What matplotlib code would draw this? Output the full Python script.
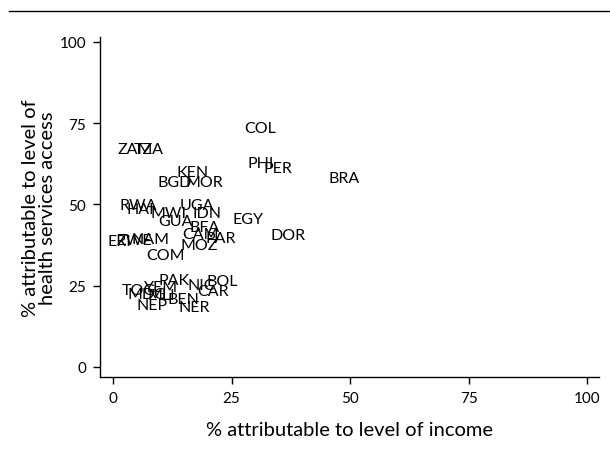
import matplotlib
matplotlib.use("Agg")
import matplotlib.pyplot as plt
from matplotlib.lines import Line2D

plt.rcParams['font.family'] = ['Lato', 'DejaVu Sans']

# country codes and their decomposition shares (%)
countries = ['COL', 'ZAM', 'TZA', 'PHI', 'PER', 'BRA', 'KEN', 'BGD', 'MOR',
             'RWA', 'HAI', 'MWI', 'UGA', 'IDN', 'GUA', 'EGY', 'BFA', 'CAM',
             'PAR', 'DOR', 'ERI', 'ZWE', 'NAM', 'MOZ', 'COM', 'PAK', 'BOL',
             'NIC', 'CAR', 'TOG', 'YEM', 'MDG', 'MLI', 'BEN', 'NEP', 'NER']
income = [31.0, 4.6, 7.6, 31.2, 34.7, 48.7, 16.7, 13.1, 19.2,
          5.3, 5.7, 11.8, 17.7, 19.9, 13.1, 28.5, 19.4, 18.4,
          22.8, 37.0, 1.3, 4.4, 7.8, 18.1, 11.1, 12.8, 23.1,
          18.6, 21.0, 5.5, 10.1, 7.1, 10.2, 14.8, 8.3, 17.1]
access = [73.5, 67.0, 67.0, 62.7, 61.1, 58.0, 59.8, 56.8, 56.8,
          49.8, 48.5, 47.2, 49.8, 47.2, 45.0, 45.4, 43.1, 41.0,
          39.7, 40.5, 38.6, 38.9, 39.2, 37.5, 34.5, 26.6, 26.3,
          25.1, 23.3, 23.7, 24.6, 22.3, 22.0, 21.0, 18.9, 18.4]

fig = plt.figure(figsize=(6.1, 4.52), dpi=100)
ax = fig.add_axes([0.164, 0.164, 0.818, 0.752])

ax.scatter(income, access, s=0)
for name, x, y in zip(countries, income, access):
    ax.text(x, y, name, ha='center', va='center', fontsize=11.5)

ax.set_xlim(-2.74, 102.5)
ax.set_ylim(-3.1, 101.5)
ax.set_xticks([0, 25, 50, 75, 100])
ax.set_yticks([0, 25, 50, 75, 100])
ax.tick_params(direction='out', length=5, width=1, labelsize=11, pad=5)
for side in ['top', 'right']:
    ax.spines[side].set_visible(False)
for side in ['left', 'bottom']:
    ax.spines[side].set_linewidth(1)

ax.set_xlabel('% attributable to level of income', fontsize=14.5, labelpad=12)
ax.set_ylabel('% attributable to level of\nhealth services access', fontsize=14.5,
              linespacing=1.0)
ax.yaxis.set_label_coords(-0.088, 0.5)

# rule across the top of the figure
fig.add_artist(Line2D([0.015, 1.0], [0.973, 0.973], color='black', lw=1,
                      transform=fig.transFigure))

fig.savefig('out.png', dpi=100)
